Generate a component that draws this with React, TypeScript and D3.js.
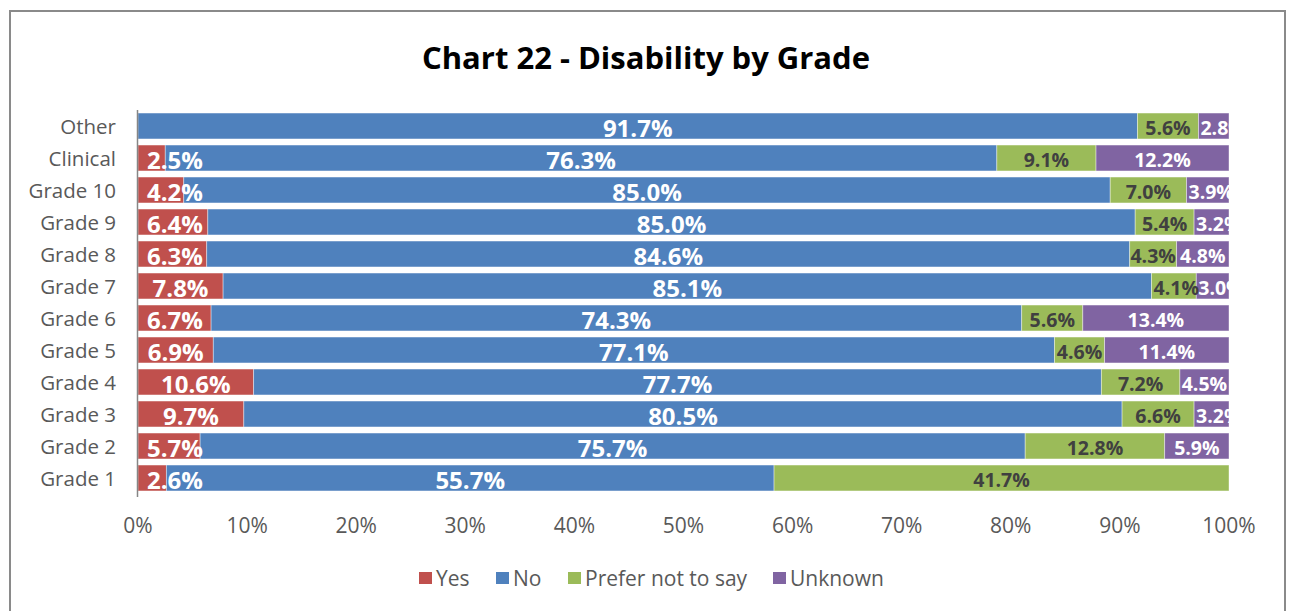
import React from "react";
import * as d3 from "d3";

const categories = ["Other", "Clinical", "Grade 10", "Grade 9", "Grade 8", "Grade 7", "Grade 6", "Grade 5", "Grade 4", "Grade 3", "Grade 2", "Grade 1"];
const seriesNames = ["Yes", "No", "Prefer not to say", "Unknown"];
const yesValues = [0, 2.5, 4.2, 6.4, 6.3, 7.8, 6.7, 6.9, 10.6, 9.7, 5.7, 2.6];
const noValues = [91.7, 76.3, 85.0, 85.0, 84.6, 85.1, 74.3, 77.1, 77.7, 80.5, 75.7, 55.7];
const preferValues = [5.6, 9.1, 7.0, 5.4, 4.3, 4.1, 5.6, 4.6, 7.2, 6.6, 12.8, 41.7];
const unknownValues = [2.8, 12.2, 3.9, 3.2, 4.8, 3.0, 13.4, 11.4, 4.5, 3.2, 5.9, 0];
const xTicks = [0, 0.1, 0.2, 0.3, 0.4, 0.5, 0.6, 0.7, 0.8, 0.9, 1.0];
const title = "Chart 22 - Disability by Grade";

const colors = ["#C0504D", "#4F81BD", "#9BBB59", "#8064A2"];
const labelColors = ["#FFFFFF", "#FFFFFF", "#404040", "#FFFFFF"];
const labelSizes = [24, 24, 19.5, 19.5];

const FONT = "'Open Sans', sans-serif";

let ctx: CanvasRenderingContext2D | null = null;
function measure(text: string, size: number, weight: number): number {
  if (!ctx) {
    const c = document.createElement("canvas");
    ctx = c.getContext("2d");
  }
  if (!ctx) return text.length * size * 0.57;
  ctx.font = `${weight} ${size}px 'Open Sans', sans-serif`;
  return ctx.measureText(text).width;
}

export default function App() {
  const W = 1290, H = 611;
  const left = 138, right = 1229;
  const rows = categories.map((c, i) => ({
    cat: c,
    "Yes": yesValues[i],
    "No": noValues[i],
    "Prefer not to say": preferValues[i],
    "Unknown": unknownValues[i],
  }));
  const stack = d3.stack<any>().keys(seriesNames).offset(d3.stackOffsetExpand);
  const layers = stack(rows);
  const x = d3.scaleLinear().domain([0, 1]).range([left, right]);
  const y = d3.scaleBand().domain(categories).range([110, 494]).paddingInner(0.19).paddingOuter(0.095);
  const seriesValues = [yesValues, noValues, preferValues, unknownValues];

  const legendItems = [
    { name: "Yes", sx: 419, tx: 436 },
    { name: "No", sx: 496, tx: 513 },
    { name: "Prefer not to say", sx: 568, tx: 585 },
    { name: "Unknown", sx: 773, tx: 790 },
  ];

  return (
    <svg width={W} height={H} style={{ position: "absolute", left: 0, top: 0, background: "#fff" }}>
      <defs>
        <clipPath id="plotclip">
          <rect x={left} y={100} width={right - left} height={400} />
        </clipPath>
      </defs>
      <rect x={0} y={0} width={W} height={H} fill="#fff" />
      <rect x={10} y={11} width={1275} height={620} fill="none" stroke="#8a8a8a" strokeWidth={2} />
      <text x={646} y={57} textAnchor="middle" dominantBaseline="central" fontFamily={FONT} fontWeight={700} fontSize={31} fill="#000" textLength={448} lengthAdjust="spacingAndGlyphs">{title}</text>

      {layers.map((layer, si) => (
        <g key={layer.key}>
          {layer.map((d, i) => (
            <rect key={i} x={x(d[0])} y={y(categories[i])} width={Math.max(0, x(d[1]) - x(d[0]))} height={y.bandwidth()} fill={colors[si]} stroke="#ffffff" strokeOpacity={0.5} strokeWidth={0.8} />
          ))}
        </g>
      ))}

      <line x1={137.5} x2={137.5} y1={110} y2={497} stroke="#868686" strokeWidth={1.5} />

      <g clipPath="url(#plotclip)">
        {layers.map((layer, si) => (
          <g key={layer.key}>
            {layer.map((d, i) => {
              const raw = seriesValues[si][i];
              if (!raw) return null;
              const label = raw.toFixed(1) + "%";
              const size = labelSizes[si];
              const w = measure(label, size, 700);
              const x0 = x(d[0]);
              const x1 = x(d[1]);
              const segW = x1 - x0;
              let cx = (x0 + x1) / 2;
              if (si === 0) {
                cx = Math.max(cx, left + 9 + w / 2);
              } else if (w > segW) {
                cx = x0 + 2 + w / 2;
              }
              return (
                <text key={i} x={cx} y={(y(categories[i]) as number) + y.bandwidth() / 2 + 1} textAnchor="middle" dominantBaseline="central" fontFamily={FONT} fontWeight={700} fontSize={size} fill={labelColors[si]}>
                  {label}
                </text>
              );
            })}
          </g>
        ))}
      </g>

      {categories.map((c) => (
        <text key={c} x={116} y={(y(c) as number) + y.bandwidth() / 2} textAnchor="end" dominantBaseline="central" fontFamily={FONT} fontSize={20.5} fill="#595959">{c}</text>
      ))}

      {xTicks.map((t) => (
        <text key={t} x={x(t)} y={525} textAnchor="middle" dominantBaseline="central" fontFamily={FONT} fontSize={21} fill="#595959">{d3.format(".0%")(t)}</text>
      ))}

      {legendItems.map((l, i) => (
        <g key={l.name}>
          <rect x={l.sx} y={572} width={13} height={12} fill={colors[i]} />
          <text x={l.tx} y={578} dominantBaseline="central" fontFamily={FONT} fontSize={21} fill="#595959">{l.name}</text>
        </g>
      ))}
    </svg>
  );
}
